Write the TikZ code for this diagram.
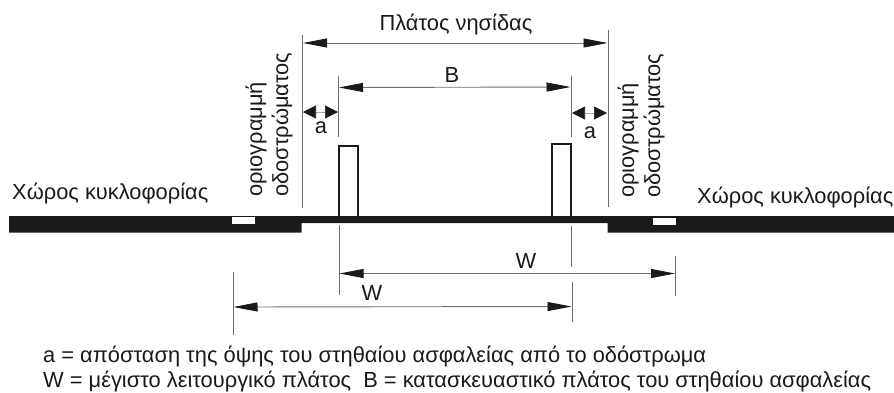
\documentclass[tikz,border=0pt]{standalone}
\usepackage{fontspec}
\setmainfont{Liberation Sans}
\usetikzlibrary{arrows.meta}
\definecolor{ink}{HTML}{1A1A1A}
\definecolor{thin}{HTML}{6E6E6E}
\tikzset{
  x=1pt,y=-1pt,
  road/.style={fill=ink,draw=none},
  slot/.style={fill=white,draw=none},
  rail/.style={draw=ink,line width=1.6pt,fill=white},
  extline/.style={draw=thin,line width=0.9pt},
  dimline/.style={draw=thin,line width=0.9pt,{Triangle[length=24pt,width=9pt,fill=ink,color=ink]}-{Triangle[length=24pt,width=9pt,fill=ink,color=ink]}},
  shortdim/.style={draw=thin!60,line width=0.7pt,{Triangle[length=13pt,width=13pt,fill=ink,color=ink]}-{Triangle[length=13pt,width=13pt,fill=ink,color=ink]}},
  lab/.style={inner sep=0pt,text=ink,font=\fontsize{21.85}{25}\selectfont,anchor=base},
  vlab/.style={lab,rotate=90,anchor=base west},
  toplab/.style={lab,anchor=base west},
}
\begin{document}
\begin{tikzpicture}
\useasboundingbox (0,0) rectangle (894,392);
% road
\fill[road] (9,216) -- (894,216) -- (894,232.5) -- (607.5,232.5) -- (607.5,223) -- (301.5,223) -- (301.5,232.5) -- (9,232.5) -- cycle;
\fill[slot] (232,216.5) rectangle (255,224);
\fill[slot] (653,217.5) rectangle (676,225);
% rails
\draw[rail] (339,216) -- (339,146) -- (358,146) -- (358,216);
\draw[rail] (552,216) -- (552,144) -- (571,144) -- (571,216);
% extension lines
\coordinate (kl) at (302.5,35); \coordinate (kl2) at (302.5,208);
\coordinate (kr) at (608,30); \coordinate (kr2) at (608,207);
\coordinate (bl) at (338.5,76); \coordinate (bl2) at (338.5,137);
\coordinate (br) at (571,76); \coordinate (br2) at (571,137);
\coordinate (wa) at (339,225); \coordinate (wa2) at (339,295);
\coordinate (wb) at (675,256); \coordinate (wb2) at (675,296);
\coordinate (wc) at (233,272); \coordinate (wc2) at (233,335);
\coordinate (wd) at (572,282); \coordinate (wd2) at (572,322);
\coordinate (we) at (571,226); \coordinate (we2) at (571,267);
\foreach \p/\q in {kl/kl2,kr/kr2,bl/bl2,br/br2,wa/wa2,wb/wb2,wc/wc2,wd/wd2,we/we2}
  \draw[extline] (\p) -- (\q);
% dimension arrows
\coordinate (d1a) at (303,43); \coordinate (d1b) at (607.5,43);
\coordinate (d2a) at (339,87.5); \coordinate (d2b) at (570.5,87);
\coordinate (d3a) at (303,112); \coordinate (d3b) at (338,112);
\coordinate (d4a) at (572,113); \coordinate (d4b) at (607,113);
\coordinate (d5a) at (339.5,273.5); \coordinate (d5b) at (675,273.5);
\coordinate (d6a) at (233.5,307); \coordinate (d6b) at (571.5,306.5);
\draw[dimline] (d1a) -- (d1b);
\draw[dimline] (d2a) -- (d2b);
\draw[shortdim] (d3a) -- (d3b);
\draw[shortdim] (d4a) -- (d4b);
\draw[dimline] (d5a) -- (d5b);
\draw[dimline] (d6a) -- (d6b);
% labels
\node[lab] (ln) at (456,30) {Πλάτος νησίδας};
\node[lab] (lb) at (452,82) {B};
\node[lab] (la1) at (321,133) {a};
\node[lab] (la2) at (590,138) {a};
\node[lab] (lw1) at (526,268) {W};
\node[lab] (lw2) at (372,300) {W};
\node[toplab] (lt1) at (12,199) {Χώρος κυκλοφορίας};
\node[toplab] (lt2) at (697,203) {Χώρος κυκλοφορίας};
\node[vlab] (v1) at (262,197) {οριογραμμή};
\node[vlab] (v2) at (288,197) {οδοστρώματος};
\node[vlab] (v3) at (634,198) {οριογραμμή};
\node[vlab] (v4) at (660,198) {οδοστρώματος};
\node[toplab] (f1) at (43,362) {a = απόσταση της όψης του στηθαίου ασφαλείας από το οδόστρωμα};
\node[toplab] (f2) at (43,387) {W = μέγιστο λειτουργικό πλάτος\ \ B = κατασκευαστικό πλάτος του στηθαίου ασφαλείας};
\end{tikzpicture}
\end{document}
